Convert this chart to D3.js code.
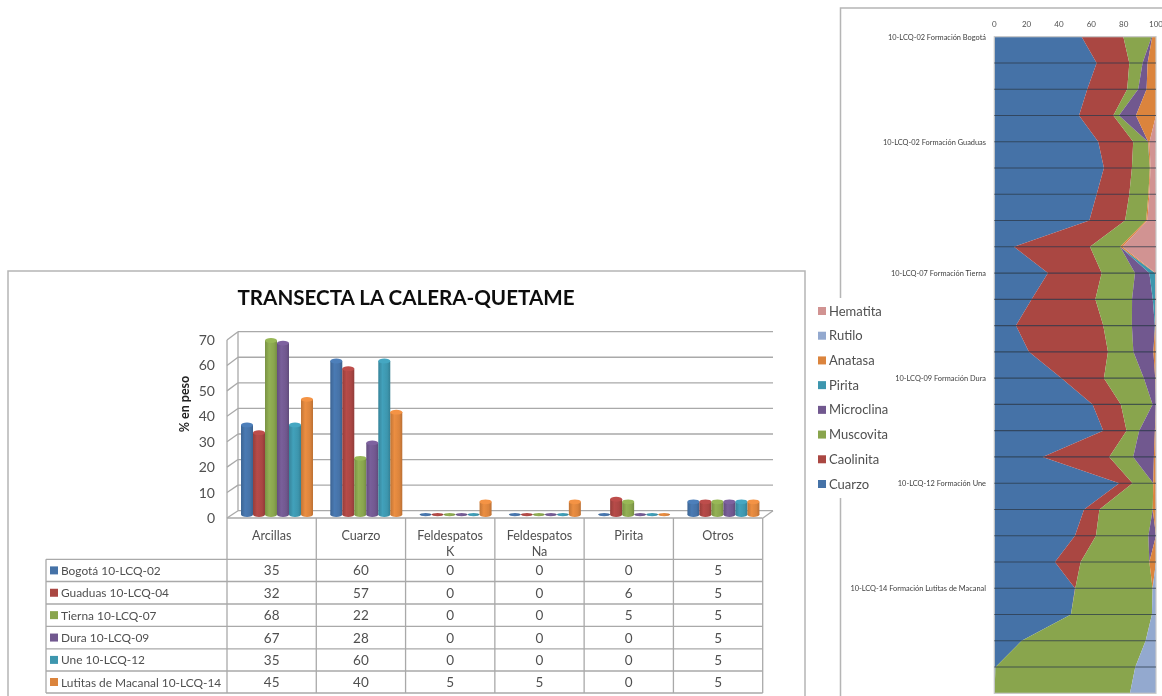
<!DOCTYPE html>
<html>
<head>
<meta charset="utf-8">
<script src="https://d3js.org/d3.v7.min.js"></script>
<style>
html,body{margin:0;padding:0;background:#fff;overflow:hidden}
text{font-family:Lato,"Open Sans",sans-serif;fill:#505050}
</style>
</head>
<body>
<script>
// left chart data
let categories = ["Arcillas","Cuarzo","Feldespatos K","Feldespatos Na","Pirita","Otros"];
let muestras = ["Bogotá 10-LCQ-02","Guaduas 10-LCQ-04","Tierna 10-LCQ-07","Dura 10-LCQ-09","Une 10-LCQ-12","Lutitas de Macanal 10-LCQ-14"];
let bogota = [35,60,0,0,0,5];
let guaduas = [32,57,0,0,6,5];
let tierna = [68,22,0,0,5,5];
let dura = [67,28,0,0,0,5];
let une = [35,60,0,0,0,5];
let lutitas = [45,40,5,5,0,5];
let barValues = [bogota,guaduas,tierna,dura,une,lutitas];
let barTicks = [0,10,20,30,40,50,60,70];
let barColors = ["#4572a7","#aa4643","#89a54e","#71588f","#3d96ae","#db843d"];

// right chart data, one value per depth row
let cuarzo = [54,63.3,57.5,52.4,64.3,67.8,63.3,58.8,12.2,33.2,23.1,13.4,21.4,41.6,60.8,67.4,29.9,77.3,55.5,49.9,37.5,49.9,47.4,16.9,0.8,0];
let caolinita = [25.8,20.2,24.7,21.2,21.6,17.3,20.2,22.1,47,33.2,39.4,54,48.9,26.2,17.5,14.4,41.2,8.2,9.5,13,15.9,0.2,0,0,0,0];
let muscovita = [17.5,8.2,6.8,3.5,9.1,11.1,11.8,13,18.6,20.6,22.7,17.7,15.7,24.7,19.6,7.8,14.8,12.8,33,32.4,42.5,47.8,50.1,76.7,86.4,83.9];
let microclina = [0.4,3.1,5.2,10.5,0.2,0,0,0,0,8.9,12.8,14.2,12.4,7,2.1,9.7,12.8,0,0,4.7,0,0,0,0,0,0];
let pirita = [0,0,0,0,0,0,0,0,0,3.5,1.4,0.2,0,0,0,0,0,0,0,0,0,0,0,0,0,0];
let anatasa = [2.3,5.2,5.8,12.4,0.8,0.4,0.6,0.8,1.5,0.3,0,0.4,1.6,0.4,0,0.6,1.2,1.6,2.1,0,4.1,0,0,0,0,0];
let rutilo = [0,0,0,0,0,0,0,0,0,0,0,0,0,0,0,0,0,0,0,0,0,2.1,2.5,6.4,12.8,16.1];
let hematita = [0,0,0,0,4.1,3.3,4.1,5.4,20.7,0.3,0.6,0,0,0,0,0,0,0,0,0,0,0,0,0,0,0];
let minerals = ["Cuarzo","Caolinita","Muscovita","Microclina","Pirita","Anatasa","Rutilo","Hematita"];
let mineralValues = [cuarzo,caolinita,muscovita,microclina,pirita,anatasa,rutilo,hematita];
let mineralColors = ["#4572a7","#aa4643","#89a54e","#71588f","#3d96ae","#db843d","#93a9cf","#d19392"];
let formaciones = ["10-LCQ-02 Formación Bogotá","10-LCQ-02 Formación Guaduas","10-LCQ-07 Formación Tierna","10-LCQ-09 Formación Dura","10-LCQ-12 Formación Une","10-LCQ-14 Formación Lutitas de Macanal"];
let formacionRows = [0,4,9,13,17,21];
let areaTicks = [0,20,40,60,80,100];

let grey = "#a9a9a9";
let svg = d3.select("body").append("svg").attr("width",1162).attr("height",696);
let defs = svg.append("defs");
defs.append("filter").attr("id","soft").append("feGaussianBlur").attr("stdDeviation",0.45);
let root = svg.append("g").attr("filter","url(#soft)");

barColors.forEach(function (c,i){
    let g = defs.append("linearGradient").attr("id","bar"+i);
    g.append("stop").attr("offset","0%").attr("stop-color",d3.color(c).darker(0.35));
    g.append("stop").attr("offset","35%").attr("stop-color",d3.color(c).brighter(0.2));
    g.append("stop").attr("offset","75%").attr("stop-color",c);
    g.append("stop").attr("offset","100%").attr("stop-color",d3.color(c).darker(0.45));
});

// frames
root.append("path").attr("d","M8,696V271H805V696").attr("fill","none").attr("stroke","#b5b5b5").attr("stroke-width",1.5);
root.append("path").attr("d","M840.5,298V8H1162M840.5,498V696").attr("fill","none").attr("stroke","#b5b5b5").attr("stroke-width",1.5);

// ---- bar chart
root.append("text").text("TRANSECTA LA CALERA-QUETAME")
    .attr("x",406).attr("y",305).attr("text-anchor","middle")
    .style("font-size","20.6px").style("font-weight","bold").style("fill","#111");

let yFront = d3.scaleLinear().domain([0,70]).range([518,340]);
let yBack = d3.scaleLinear().domain([0,70]).range([510.7,331.7]);
let yBar = d3.scaleLinear().domain([0,70]).range([514.6,335.4]);
let xCat = d3.scaleBand().domain(categories).range([227,762.7]);
let xBar = d3.scaleBand().domain(muestras).range([14,86]);

let grid = root.append("g").attr("stroke",grey).attr("stroke-width",1.3).attr("fill","none");
grid.selectAll(".back").data(barTicks).enter().append("line")
    .attr("x1",238).attr("x2",773)
    .attr("y1",function (d){return yBack(d);}).attr("y2",function (d){return yBack(d);});
grid.selectAll(".side").data(barTicks).enter().append("line")
    .attr("x1",227).attr("x2",238)
    .attr("y1",function (d){return yFront(d);}).attr("y2",function (d){return yBack(d);});
grid.append("line").attr("x1",227).attr("x2",227).attr("y1",yFront(70)).attr("y2",yFront(0));
grid.append("line").attr("x1",238).attr("x2",238).attr("y1",yBack(70)).attr("y2",yBack(0));
grid.append("line").attr("x1",763).attr("x2",773).attr("y1",yFront(0)).attr("y2",yBack(0));

root.selectAll(".ytick").data(barTicks).enter().append("text")
    .text(function (d){return d;})
    .attr("x",215).attr("y",function (d){return yFront(d)+5;})
    .attr("text-anchor","end").style("font-size","14px");
root.append("text").text("% en peso")
    .attr("transform","translate(189,404) rotate(-90)").attr("text-anchor","middle")
    .style("font-size","12.5px").style("font-weight","bold").style("fill","#222");

muestras.forEach(function (m,s){
    let g = root.append("g");
    let cols = g.selectAll("g").data(barValues[s]).enter().append("g")
        .attr("transform",function (d,i){return "translate("+(xCat(categories[i])+xBar(m))+",0)";});
    let w = xBar.bandwidth();
    cols.append("ellipse").attr("cx",w/2).attr("cy",yBar(0)).attr("rx",w/2).attr("ry",function (d){return d>0?2.4:1.6;}).attr("fill","url(#bar"+s+")");
    cols.filter(function (d){return d>0;}).append("rect")
        .attr("x",0).attr("width",w)
        .attr("y",function (d){return yBar(d);})
        .attr("height",function (d){return yBar(0)-yBar(d);})
        .attr("fill","url(#bar"+s+")");
    cols.filter(function (d){return d>0;}).append("ellipse")
        .attr("cx",w/2).attr("cy",function (d){return yBar(d);}).attr("rx",w/2).attr("ry",2.4)
        .attr("fill",d3.color(barColors[s]).brighter(0.3));
});

// data table under the bars
let rowLines = [559.3,581.5,604,626.3,648.8,671,693];
let table = root.append("g").attr("stroke",grey).attr("stroke-width",1.3).attr("fill","none");
table.append("line").attr("x1",227).attr("x2",762.7).attr("y1",518).attr("y2",518);
table.selectAll(".hl").data(rowLines).enter().append("line")
    .attr("x1",46).attr("x2",762.7)
    .attr("y1",function (d){return d;}).attr("y2",function (d){return d;});
table.append("line").attr("x1",46).attr("x2",46).attr("y1",559.3).attr("y2",693);
table.selectAll(".vl").data(categories.concat(["end"])).enter().append("line")
    .attr("x1",function (d,i){return 227+i*xCat.bandwidth();})
    .attr("x2",function (d,i){return 227+i*xCat.bandwidth();})
    .attr("y1",518).attr("y2",693);

let header = root.selectAll(".cat").data(categories).enter().append("text")
    .attr("text-anchor","middle").style("font-size","12.6px")
    .attr("y",540);
header.each(function (d){
    let parts = d.split(" ");
    let t = d3.select(this);
    let cx = xCat(d)+xCat.bandwidth()/2;
    parts.forEach(function (p,i){
        t.append("tspan").attr("x",cx).attr("dy",i===0?0:15.5).text(p);
    });
});
muestras.forEach(function (m,s){
    let yMid = (rowLines[s]+rowLines[s+1])/2;
    root.append("rect").attr("x",50).attr("y",yMid-4).attr("width",8).attr("height",8).attr("fill",barColors[s]);
    root.append("text").text(m).attr("x",61).attr("y",yMid+4.5).style("font-size","11.9px");
    root.selectAll(".val"+s).data(barValues[s]).enter().append("text")
        .text(function (d){return d;})
        .attr("x",function (d,i){return xCat(categories[i])+xCat.bandwidth()/2;})
        .attr("y",yMid+5).attr("text-anchor","middle").style("font-size","13.5px");
});

// ---- stacked area, depth runs downward
let rows = d3.range(cuarzo.length);
let table2 = rows.map(function (r){
    let o = {row:r};
    minerals.forEach(function (m,i){o[m]=mineralValues[i][r];});
    return o;
});
let stack = d3.stack().keys(minerals)(table2);
let xPct = d3.scaleLinear().domain([0,100]).range([994.3,1156]);
let yRow = d3.scaleLinear().domain([0,25]).range([36.7,693.3]);
let area = d3.area()
    .y(function (d){return yRow(d.data.row);})
    .x0(function (d){return xPct(d[0]);})
    .x1(function (d){return xPct(Math.min(d[1],100));});
root.selectAll(".layer").data(stack).enter().append("path")
    .attr("d",area)
    .attr("fill",function (d,i){return mineralColors[i];});
root.append("rect").attr("x",xPct(0)).attr("y",yRow(0)).attr("width",xPct(100)-xPct(0)).attr("height",yRow(25)-yRow(0))
    .attr("fill","none").attr("stroke","#c8c8c8").attr("stroke-width",1.2);
root.selectAll(".rowline").data(rows.slice(1,25)).enter().append("line")
    .attr("x1",xPct(0)).attr("x2",xPct(100))
    .attr("y1",function (d){return yRow(d);}).attr("y2",function (d){return yRow(d);})
    .attr("stroke","#2b3a4a").attr("stroke-opacity",0.75).attr("stroke-width",1.1);
root.selectAll(".xtick").data(areaTicks).enter().append("text")
    .text(function (d){return d;})
    .attr("x",function (d){return xPct(d);}).attr("y",27)
    .attr("text-anchor","middle").style("font-size","8px");
root.selectAll(".form").data(formaciones).enter().append("text")
    .text(function (d){return d;})
    .attr("x",986).attr("y",function (d,i){return yRow(formacionRows[i])+2.8;})
    .attr("text-anchor","end").style("font-size","7.4px").style("fill","#404040");

// legend, reversed like the stack
let legendY = d3.scalePoint().domain(minerals.slice().reverse()).range([311,484]);
root.selectAll(".legsw").data(minerals).enter().append("rect")
    .attr("x",818).attr("width",8).attr("height",8)
    .attr("y",function (d){return legendY(d)-4;})
    .attr("fill",function (d,i){return mineralColors[i];});
root.selectAll(".legtx").data(minerals).enter().append("text")
    .text(function (d){return d;})
    .attr("x",829).attr("y",function (d){return legendY(d)+4.5;})
    .style("font-size","13px");
</script>
</body>
</html>
